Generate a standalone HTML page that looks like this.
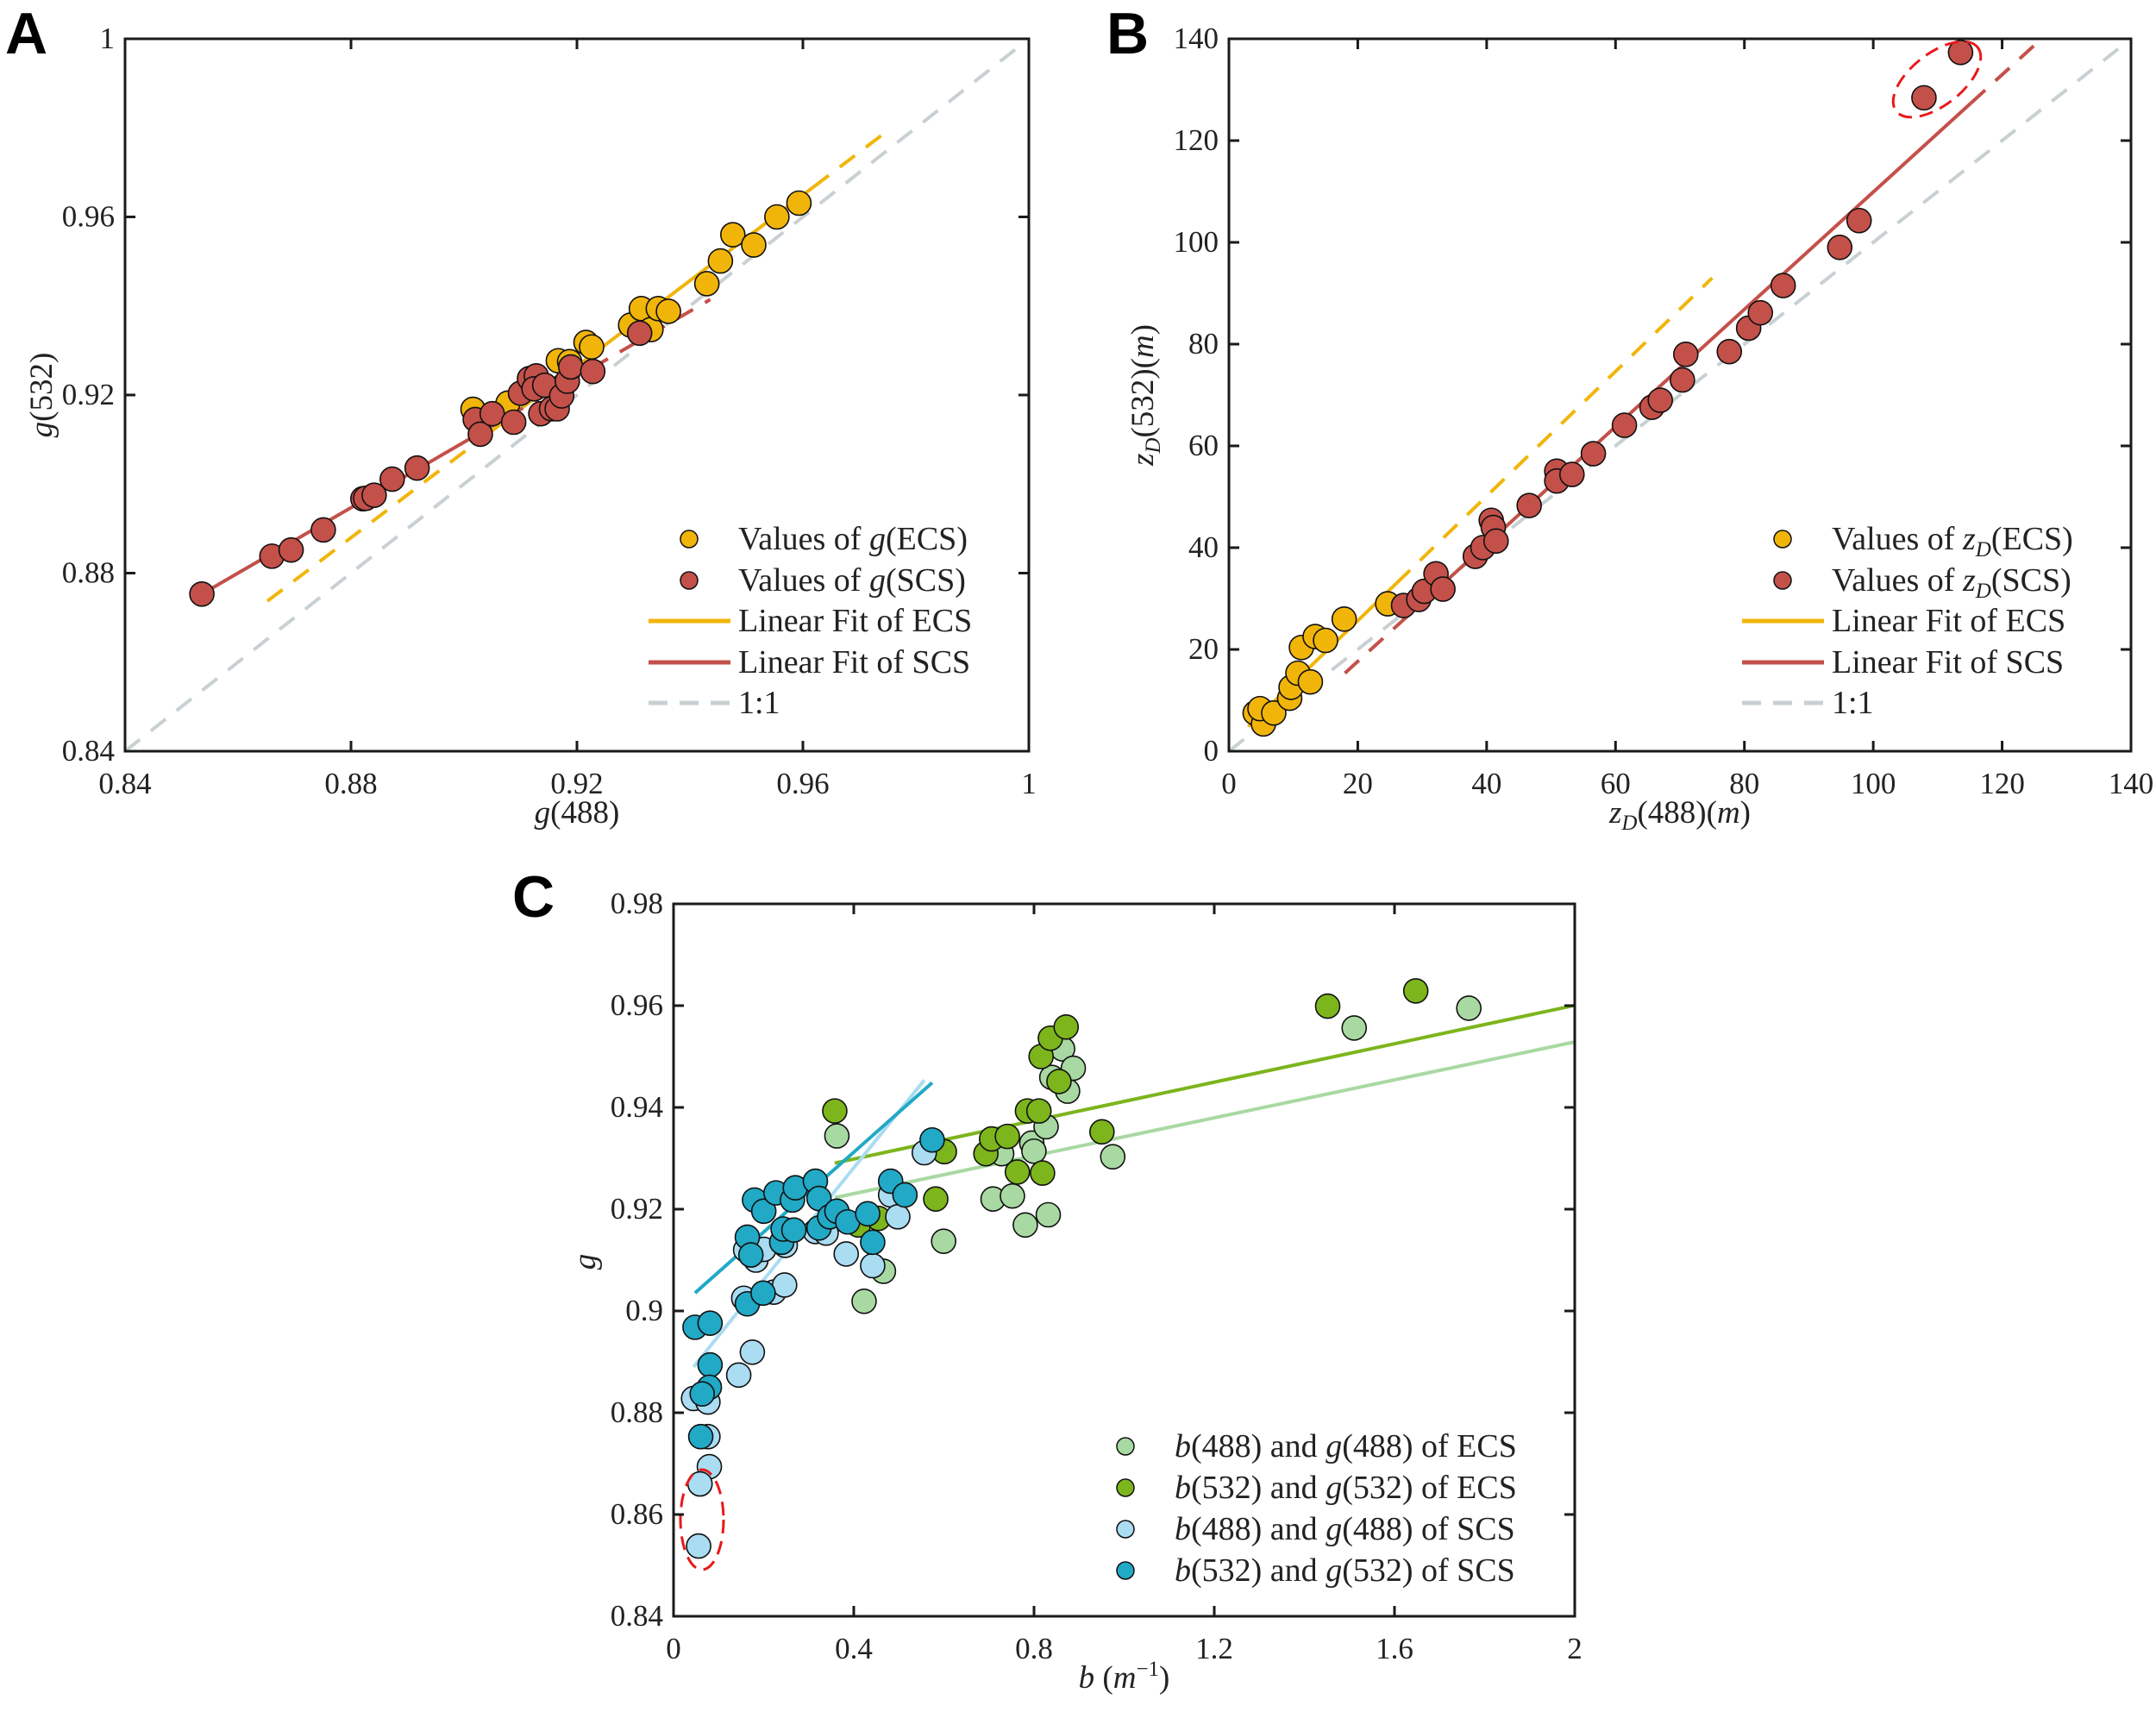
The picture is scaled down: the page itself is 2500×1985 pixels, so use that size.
<!DOCTYPE html>
<html><head><meta charset="utf-8"><style>
html,body{margin:0;padding:0;background:#fff;}
svg text{font-family:"Liberation Serif","DejaVu Serif",serif;fill:#222;}
</style></head><body>
<svg id="fig" width="2500" height="1980" viewBox="0 0 2500 1980" xmlns="http://www.w3.org/2000/svg" font-family="Liberation Serif, serif">
<rect width="2500" height="1980" fill="#fff"/>
</svg>
<script>
// ---------- Panel A data ----------
const aEcsX=[0.9016,0.9078,0.9167,0.9187,0.9216,0.9226,0.9295,0.9314,0.9331,0.9344,0.9362,0.9430,0.9454,0.9476,0.9513,0.9554,0.9593,0.9175];
const aEcsY=[0.9168,0.9182,0.9277,0.9275,0.9318,0.9308,0.9357,0.9394,0.9347,0.9394,0.9388,0.9450,0.9501,0.9560,0.9537,0.9600,0.9631,0.9220];
const aScsX=[0.8536,0.8660,0.8694,0.8751,0.8821,0.8826,0.8841,0.8873,0.8917,0.9020,0.9029,0.9050,0.9088,0.9100,0.9116,0.9128,0.9124,0.9143,0.9136,0.9155,0.9165,0.9173,0.9183,0.9189,0.9228,0.9311];
const aScsY=[0.8753,0.8838,0.8852,0.8897,0.8967,0.8968,0.8975,0.9011,0.9036,0.9145,0.9112,0.9158,0.9139,0.9204,0.9237,0.9243,0.9214,0.9222,0.9158,0.9169,0.9169,0.9198,0.9231,0.9263,0.9253,0.9339];
const aTicks=[0.84,0.88,0.92,0.96,1];
const aTickLabels=["0.84","0.88","0.92","0.96","1"];
const aEcsFit=[0.0414,0.962]; // intercept, slope
const aScsFit=[0.2479,0.735];
// ---------- Panel B data ----------
const bEcsX=[4.07,5.36,4.82,6.96,9.43,9.64,10.71,11.25,12.64,13.39,15.0,17.89,24.64];
const bEcsY=[7.51,5.36,8.37,7.51,10.41,12.55,15.34,20.38,13.62,22.53,21.78,25.96,28.97];
const bScsX=[27.10,29.46,30.32,32.14,33.21,38.24,39.42,40.71,41.03,41.46,46.60,50.88,50.88,53.24,56.56,61.38,65.66,66.95,70.38,70.91,77.66,80.66,82.48,86.02,94.80,97.80,107.87,113.55];
const bScsY=[28.64,29.82,31.43,34.87,31.86,38.30,40.02,45.38,43.98,41.30,48.28,55.03,53.10,54.39,58.47,64.05,67.59,68.98,72.95,77.99,78.53,83.14,86.15,91.51,99.02,104.28,128.41,137.32];
const bTicks=[0,20,40,60,80,100,120,140];
const bTickLabels=["0","20","40","60","80","100","120","140"];
const bEcsFit=[1.16,1.2246];
const bScsFit=[-5.41,1.153];
// ---------- Panel C data ----------
const cE488X=[0.3625,0.4229,0.4658,0.5994,0.7091,0.7282,0.7521,0.7807,0.7950,0.7998,0.8268,0.8316,0.8395,0.8634,0.8745,0.8872,0.9747,1.5105,1.7649];
const cE488Y=[0.9344,0.9019,0.9078,0.9137,0.9220,0.9309,0.9226,0.9169,0.9330,0.9314,0.9362,0.9189,0.9459,0.9515,0.9432,0.9477,0.9303,0.9556,0.9595];
const cE532X=[0.3578,0.4102,0.4547,0.5819,0.6010,0.6932,0.7059,0.7409,0.7631,0.7855,0.8109,0.8189,0.8157,0.8363,0.8554,0.8713,0.9508,1.4517,1.6472];
const cE532Y=[0.9393,0.9169,0.9182,0.9220,0.9313,0.9309,0.9338,0.9343,0.9273,0.9393,0.9393,0.9271,0.9500,0.9536,0.9451,0.9558,0.9352,0.9599,0.9629];
const cS488X=[0.0445,0.0763,0.0763,0.0795,0.0588,0.0557,0.1447,0.1749,0.1558,0.1829,0.2003,0.2226,0.2465,0.2480,0.3148,0.3387,0.3832,0.4420,0.4818,0.4977,0.5565,0.16];
const cS488Y=[0.8828,0.8821,0.8753,0.8694,0.8660,0.8538,0.8874,0.8919,0.9025,0.9100,0.9121,0.9037,0.9051,0.9129,0.9156,0.9153,0.9112,0.9089,0.9228,0.9185,0.9311,0.912];
const cS532X=[0.0477,0.0811,0.0811,0.0795,0.0636,0.0604,0.1638,0.1638,0.1717,0.1797,0.2003,0.1988,0.2274,0.2401,0.2433,0.2639,0.2703,0.2671,0.3148,0.3228,0.3228,0.3466,0.3625,0.3864,0.4309,0.4420,0.4818,0.5136,0.5740];
const cS532Y=[0.8968,0.8976,0.8894,0.8850,0.8837,0.8753,0.9014,0.9145,0.9110,0.9218,0.9196,0.9035,0.9232,0.9135,0.9161,0.9218,0.9242,0.9159,0.9255,0.9221,0.9163,0.9185,0.9196,0.9175,0.9191,0.9135,0.9255,0.9228,0.9336];
const cXTicks=[0,0.4,0.8,1.2,1.6,2];
const cXTickLabels=["0","0.4","0.8","1.2","1.6","2"];
const cYTicks=[0.84,0.86,0.88,0.9,0.92,0.94,0.96,0.98];
const cYTickLabels=["0.84","0.86","0.88","0.9","0.92","0.94","0.96","0.98"];
const cE488Fit=[0.9156,0.01863];
const cE532Fit=[0.9223,0.01888];
const cS488Fit=[0.8841,0.1101];
const cS532Fit=[0.8998,0.0785];

const NS="http://www.w3.org/2000/svg";
const svg=document.getElementById('fig');
const YEL="#f1b50a",RED="#c4504a",GRY="#c8d0d3",LG="#a8d9a2",DG="#7cb51c",LB="#aadcf2",DB="#21a9c6";
const SERIF='"Liberation Serif", serif';
function mk(tag,attrs,parent){const e=document.createElementNS(NS,tag);for(const k in attrs)e.setAttribute(k,attrs[k]);if(tag==='text'&&!e.hasAttribute('style'))e.setAttribute('style','font-family:'+SERIF);(parent||svg).appendChild(e);return e;}
function scale(d0,d1,r0,r1){return v=>r0+(v-d0)/(d1-d0)*(r1-r0);}

function axes(g,L,R,T,B,sx,sy,xt,xl,yt,yl){
  mk('rect',{x:L,y:T,width:R-L,height:B-T,fill:'none',stroke:'#1a1a1a','stroke-width':3},g);
  xt.forEach((v,i)=>{const x=sx(v);
    const t1=mk('line',{x1:x,y1:B,x2:x,y2:B-12,stroke:'#1a1a1a','stroke-width':3},g);
    
    
    mk('line',{x1:x,y1:T,x2:x,y2:T+12,stroke:'#1a1a1a','stroke-width':3},g);
    const t=mk('text',{x:x,y:B+49,'font-size':35,'text-anchor':'middle'},g);t.textContent=xl[i];
    
    
  });
  yt.forEach((v,i)=>{const y=sy(v);
    mk('line',{x1:L,y1:y,x2:L+12,y2:y,stroke:'#1a1a1a','stroke-width':3},g);
    mk('line',{x1:R,y1:y,x2:R-12,y2:y,stroke:'#1a1a1a','stroke-width':3},g);
    const t=mk('text',{x:L-12,y:y+11,'font-size':35,'text-anchor':'end'},g);t.textContent=yl[i];
    
    
  });
}
function fitLine(g,sx,sy,fit,x0,x1,color,dash,name,w){
  const l=mk('line',{x1:sx(x0),y1:sy(fit[0]+fit[1]*x0),x2:sx(x1),y2:sy(fit[0]+fit[1]*x1),stroke:color,'stroke-width':w||4},g);
  if(dash)l.setAttribute('stroke-dasharray',dash);
  
  
}
function points(g,sx,sy,X,Y,color,name){
  X.forEach((v,i)=>{
    const c=mk('circle',{cx:sx(v),cy:sy(Y[i]),r:14,fill:color,stroke:'#111','stroke-width':1.6},g);
    
    
  });
}
function legend(g,x,ys,items){
  items.forEach((it,i)=>{const y=ys[i];
    if(it.type==='m'){mk('circle',{cx:x+47,cy:y,r:10,fill:it.c,stroke:'#111','stroke-width':1.5},g);}
    else{const l=mk('line',{x1:x,y1:y,x2:x+95,y2:y,stroke:it.c,'stroke-width':5},g);if(it.dash)l.setAttribute('stroke-dasharray',it.dash);}
    const t=mk('text',{x:x+104,y:y+12,'font-size':38},g);t.innerHTML=it.t;
    
    
  });
}
function letter(t,x,y){const e=mk('text',{x:x,y:y,'font-size':68,'font-weight':'bold',style:'font-family:"Liberation Sans",sans-serif;fill:#000'});e.textContent=t;
  
  }

// ===== Panel A =====
(function(){
  const L=145,R=1193,T=45,B=871;
  const g=mk('g',{});
  const sx=scale(0.84,1,L,R),sy=scale(0.84,1,B,T);
  fitLine(g,sx,sy,[0,1],0.84,0.998,GRY,'22 16','one-to-one-line');
  fitLine(g,sx,sy,aEcsFit,0.8652,0.9025,YEL,'22 16','ecs-fit-dashed');
  fitLine(g,sx,sy,aEcsFit,0.9025,0.9619,YEL,null,'ecs-fit');
  fitLine(g,sx,sy,aEcsFit,0.9619,0.9747,YEL,'22 16','ecs-fit-dashed');
  fitLine(g,sx,sy,aScsFit,0.8536,0.9025,RED,null,'scs-fit');
  fitLine(g,sx,sy,aScsFit,0.9025,0.9436,RED,'22 16','scs-fit-dashed');
  points(g,sx,sy,aEcsX,aEcsY,YEL,'ecs-point');
  points(g,sx,sy,aScsX,aScsY,RED,'scs-point');
  axes(g,L,R,T,B,sx,sy,aTicks,aTickLabels,aTicks,aTickLabels);
  legend(g,752,[625,673,720,768,815],[
    {type:'m',c:YEL,t:'Values of <tspan font-style="italic">g</tspan>(ECS)'},
    {type:'m',c:RED,t:'Values of <tspan font-style="italic">g</tspan>(SCS)'},
    {type:'l',c:YEL,t:'Linear Fit of ECS'},
    {type:'l',c:RED,t:'Linear Fit of SCS'},
    {type:'l',c:GRY,dash:'22 14',t:'1:1'}]);
  const xl=mk('text',{x:(L+R)/2,y:954,'font-size':37,'text-anchor':'middle'},g);xl.innerHTML='<tspan font-style="italic">g</tspan>(488)';
  
  const yl=mk('text',{x:0,y:0,'font-size':37,'text-anchor':'middle',transform:'translate(60,458) rotate(-90)'},g);yl.innerHTML='<tspan font-style="italic">g</tspan>(532)';
  
})();
letter('A',6,62);

// ===== Panel B =====
(function(){
  const L=1425,R=2471,T=45,B=871;
  const g=mk('g',{});
  const sx=scale(0,140,L,R),sy=scale(0,140,B,T);
  fitLine(g,sx,sy,[0,1],0,138,GRY,'22 16','one-to-one-line');
  fitLine(g,sx,sy,bEcsFit,3,26,YEL,null,'ecs-fit');
  fitLine(g,sx,sy,bEcsFit,26,75,YEL,'22 16','ecs-fit-dashed');
  fitLine(g,sx,sy,bScsFit,18,26.8,RED,'22 16','scs-fit-dashed');
  fitLine(g,sx,sy,bScsFit,26.8,115.2,RED,null,'scs-fit');
  fitLine(g,sx,sy,bScsFit,115.2,126.1,RED,'22 16','scs-fit-dashed');
  points(g,sx,sy,bEcsX,bEcsY,YEL,'ecs-point');
  points(g,sx,sy,bScsX,bScsY,RED,'scs-point');
  const el=mk('ellipse',{cx:2246,cy:92,rx:60,ry:30,fill:'none',stroke:'#e8191b','stroke-width':3,'stroke-dasharray':'16 9',transform:'rotate(-38 2246 92)'},g);
  
  axes(g,L,R,T,B,sx,sy,bTicks,bTickLabels,bTicks,bTickLabels);
  legend(g,2020,[625,673,720,768,815],[
    {type:'m',c:YEL,t:'Values of <tspan font-style="italic">z</tspan><tspan font-style="italic" font-size="25" dy="8">D</tspan><tspan dy="-8">(ECS)</tspan>'},
    {type:'m',c:RED,t:'Values of <tspan font-style="italic">z</tspan><tspan font-style="italic" font-size="25" dy="8">D</tspan><tspan dy="-8">(SCS)</tspan>'},
    {type:'l',c:YEL,t:'Linear Fit of ECS'},
    {type:'l',c:RED,t:'Linear Fit of SCS'},
    {type:'l',c:GRY,dash:'22 14',t:'1:1'}]);
  const xl=mk('text',{x:(L+R)/2,y:954,'font-size':37,'text-anchor':'middle'},g);xl.innerHTML='<tspan font-style="italic">z</tspan><tspan font-style="italic" font-size="25" dy="8">D</tspan><tspan dy="-8">(488)(</tspan><tspan font-style="italic">m</tspan>)';
  
  const yl=mk('text',{x:0,y:0,'font-size':37,'text-anchor':'middle',transform:'translate(1337,458) rotate(-90)'},g);yl.innerHTML='<tspan font-style="italic">z</tspan><tspan font-style="italic" font-size="25" dy="8">D</tspan><tspan dy="-8">(532)(</tspan><tspan font-style="italic">m</tspan>)';
  
})();
letter('B',1283,62);

// ===== Panel C =====
(function(){
  const L=781,R=1826,T=1048,B=1874;
  const g=mk('g',{});
  const sx=scale(0,2,L,R),sy=scale(0.84,0.98,B,T);
  fitLine(g,sx,sy,cE488Fit,0.3578,2,LG,null,'ecs-488-fit');
  fitLine(g,sx,sy,cE532Fit,0.3578,2,DG,null,'ecs-532-fit');
  fitLine(g,sx,sy,cS488Fit,0.0445,0.5565,LB,null,'scs-488-fit');
  fitLine(g,sx,sy,cS532Fit,0.0477,0.574,DB,null,'scs-532-fit');
  points(g,sx,sy,cE488X,cE488Y,LG,'ecs-488-point');
  points(g,sx,sy,cE532X,cE532Y,DG,'ecs-532-point');
  points(g,sx,sy,cS488X,cS488Y,LB,'scs-488-point');
  points(g,sx,sy,cS532X,cS532Y,DB,'scs-532-point');
  const el=mk('ellipse',{cx:814,cy:1762,rx:25,ry:58,fill:'none',stroke:'#e8191b','stroke-width':3,'stroke-dasharray':'16 9'},g);
  
  axes(g,L,R,T,B,sx,sy,cXTicks,cXTickLabels,cYTicks,cYTickLabels);
  const I=s=>'<tspan font-style="italic">'+s+'</tspan>';
  legend(g,1258,[1677,1725,1773,1821],[
    {type:'m',c:LG,t:I('b')+'(488) and '+I('g')+'(488) of ECS'},
    {type:'m',c:DG,t:I('b')+'(532) and '+I('g')+'(532) of ECS'},
    {type:'m',c:LB,t:I('b')+'(488) and '+I('g')+'(488) of SCS'},
    {type:'m',c:DB,t:I('b')+'(532) and '+I('g')+'(532) of SCS'}]);
  const xl=mk('text',{x:(L+R)/2,y:1957,'font-size':37,'text-anchor':'middle'},g);xl.innerHTML=I('b')+' ('+I('m')+'<tspan font-size="25" dy="-14">−1</tspan><tspan dy="14">)</tspan>';
  
  const yl=mk('text',{x:0,y:0,'font-size':37,'text-anchor':'middle','font-style':'italic',transform:'translate(690,1463) rotate(-90)'},g);yl.textContent='g';
  
})();
letter('C',594,1063);
</script>
</body></html>
